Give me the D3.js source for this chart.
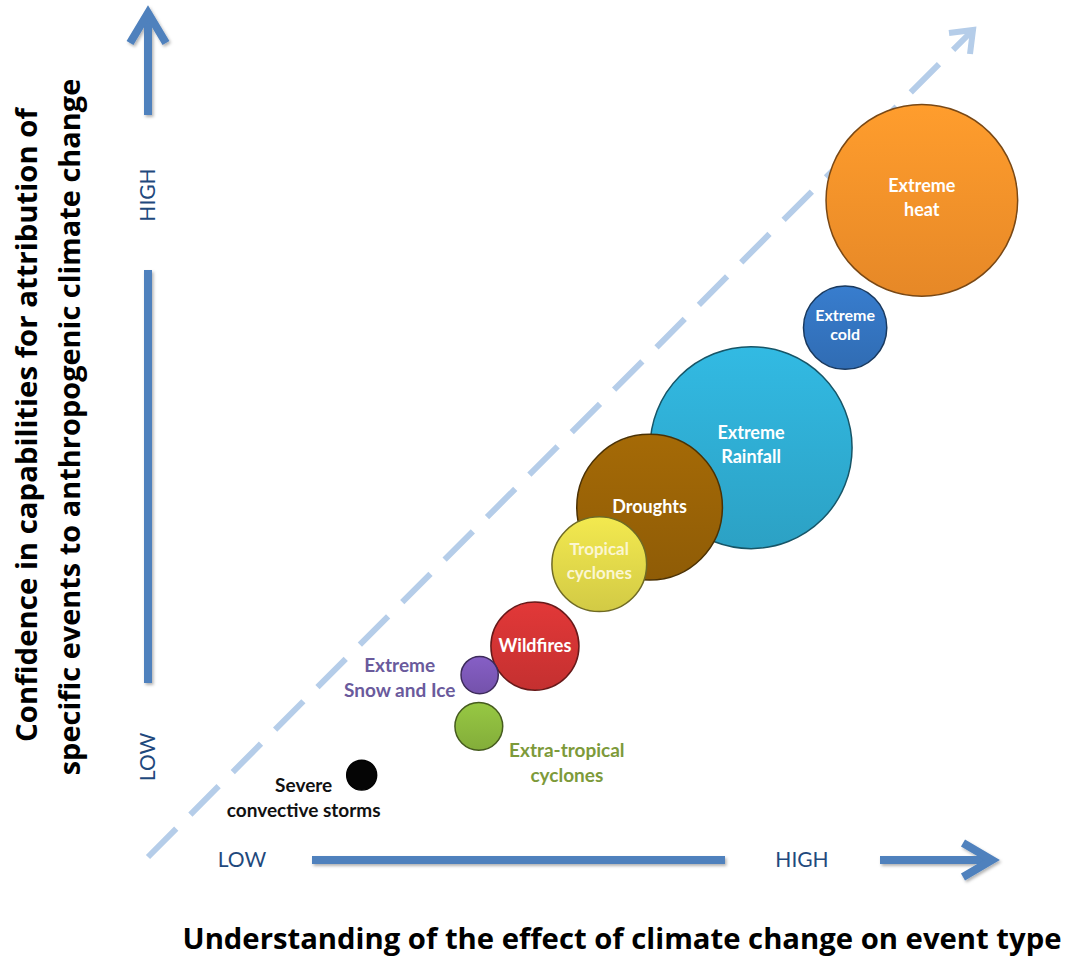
<!DOCTYPE html>
<html>
<head>
<meta charset="utf-8">
<script src="https://cdn.jsdelivr.net/npm/d3@7"></script>
<style>
  body { margin: 0; background: #fff; }
  svg { display: block; font-family: Lato, "Open Sans", sans-serif; }
</style>
</head>
<body>
<div id="chart"></div>
<script>
// event types, position on the two axes (0-100) and relative size
const events = ["Extreme heat", "Extreme cold", "Extreme Rainfall", "Droughts", "Tropical cyclones",
    "Wildfires", "Extreme Snow and Ice", "Extra-tropical cyclones", "Severe convective storms"];
const understanding = [93.8, 84.5, 73.1, 60.8, 54.7, 46.9, 40.2, 40.1, 25.9];
const confidence = [79.4, 64.0, 49.5, 42.3, 35.4, 25.5, 22.0, 15.8, 9.9];
const sizes = [90, 17, 100, 52, 22, 19, 3.4, 5.6, 2.2];
const colors = ["#f7922a", "#3474c0", "#2fadd3", "#9a6306", "#e2d94a", "#d23434", "#7d58b8", "#8dba3e", "#050505"];
const labelInside = [true, true, true, true, true, true, false, false, false];
const levelLabels = ["LOW", "HIGH"];

// shrink or grow a text's font size so it spans the wanted width
function fitText(sel, target) {
    let fs = +sel.attr('font-size');
    let len = sel.node().getComputedTextLength();
    sel.attr('font-size', fs * target / len);
}

function drawChart() {
    const W = 1088, H = 970;
    let svg = d3.select('#chart').append('svg')
        .attr('width', W)
        .attr('height', H);

    // Scales: the dashed diagonal goes from (0,0) to (100,100)
    let xscale = d3.scaleLinear().domain([0, 100]).range([148, 973]);
    let yscale = d3.scaleLinear().domain([0, 100]).range([857, 30]);
    let rscale = d3.scaleSqrt().domain([0, 100]).range([0, 101]);

    let defs = svg.append('defs');
    let shadow = defs.append('filter').attr('id', 'shadow')
        .attr('x', '-20%').attr('y', '-20%').attr('width', '140%').attr('height', '140%');
    shadow.append('feDropShadow')
        .attr('dx', 1.5).attr('dy', 2).attr('stdDeviation', 1.5)
        .attr('flood-color', '#000').attr('flood-opacity', 0.3);

    colors.forEach((c, i) => {
        let grad = defs.append('linearGradient')
            .attr('id', 'grad' + i)
            .attr('x1', 0).attr('y1', 0).attr('x2', 0).attr('y2', 1);
        grad.append('stop').attr('offset', '0%').attr('stop-color', d3.color(c).brighter(0.2));
        grad.append('stop').attr('offset', '100%').attr('stop-color', d3.color(c).darker(0.2));
    });

    // dashed diagonal
    svg.append('line')
        .attr('x1', xscale(0)).attr('y1', yscale(0))
        .attr('x2', xscale(100) - 2).attr('y2', yscale(100) + 2)
        .attr('stroke', '#b5cde9')
        .attr('stroke-width', 6)
        .attr('stroke-dasharray', '40,20');
    svg.append('polyline')
        .attr('points', [[xscale(100) - 24, yscale(100) + 3], [xscale(100), yscale(100)], [xscale(100) - 3, yscale(100) + 24]].join(' '))
        .attr('fill', 'none')
        .attr('stroke', '#b5cde9')
        .attr('stroke-width', 6);

    // axis arrows
    const blue = '#4f81bd';
    let ax = svg.append('g').attr('filter', 'url(#shadow)')
        .attr('stroke', blue).attr('stroke-width', 8).attr('fill', 'none');
    let x0 = xscale(0), yb = 860;
    // vertical
    ax.append('line').attr('x1', x0).attr('x2', x0).attr('y1', 270).attr('y2', 683);
    ax.append('line').attr('x1', x0).attr('x2', x0).attr('y1', 115).attr('y2', 14);
    ax.append('polyline').attr('points', [[x0 - 18, 43], [x0, 13], [x0 + 18, 43]].join(' '));
    // horizontal
    ax.append('line').attr('x1', 312).attr('x2', 725).attr('y1', yb).attr('y2', yb);
    ax.append('line').attr('x1', 880).attr('x2', 990).attr('y1', yb).attr('y2', yb);
    ax.append('polyline').attr('points', [[963, yb - 17], [992, yb], [963, yb + 17]].join(' '));

    // LOW / HIGH labels
    const tickColor = '#1f497d';
    svg.selectAll('.xlevel')
        .data(levelLabels)
        .join('text')
        .attr('class', 'xlevel')
        .attr('x', (d, i) => i == 0 ? 242 : 802)
        .attr('y', yb + 7)
        .attr('text-anchor', 'middle')
        .attr('font-size', 21)
        .attr('fill', tickColor)
        .text(d => d);
    svg.selectAll('.ylevel')
        .data(levelLabels)
        .join('text')
        .attr('class', 'ylevel')
        .attr('transform', (d, i) => `translate(${x0 + 7},${i == 0 ? 757 : 195}) rotate(-90)`)
        .attr('text-anchor', 'middle')
        .attr('font-size', 21)
        .attr('fill', tickColor)
        .text(d => d);

    // bubbles
    let data = events.map((e, i) => ({
        name: e, x: understanding[i], y: confidence[i], size: sizes[i], color: colors[i], inside: labelInside[i], i: i
    }));

    svg.selectAll('circle.bubble')
        .data(data)
        .join('circle')
        .attr('class', 'bubble')
        .attr('cx', d => xscale(d.x))
        .attr('cy', d => yscale(d.y))
        .attr('r', d => rscale(d.size))
        .attr('fill', d => `url(#grad${d.i})`)
        .attr('stroke', d => d3.color(d.color).darker(2))
        .attr('stroke-width', 1.5);

    // labels inside bubbles
    const insideLines = {
        "Extreme heat": ["Extreme", "heat"],
        "Extreme cold": ["Extreme", "cold"],
        "Extreme Rainfall": ["Extreme", "Rainfall"],
        "Droughts": ["Droughts"],
        "Tropical cyclones": ["Tropical", "cyclones"],
        "Wildfires": ["Wildfires"]
    };
    data.filter(d => d.inside).forEach(d => {
        let lines = insideLines[d.name];
        let fs = d.name == "Extreme cold" ? 16 : (d.name == "Tropical cyclones" ? 17 : 18);
        let lh = d.name == "Extreme cold" ? 19 : 24;
        let t = svg.append('text')
            .attr('text-anchor', 'middle')
            .attr('font-size', fs)
            .attr('font-weight', 'bold')
            .attr('fill', d.name == "Tropical cyclones" ? '#fbf6d2' : '#fff');
        lines.forEach((l, k) => {
            t.append('tspan')
                .attr('x', xscale(d.x))
                .attr('y', yscale(d.y) + fs * 0.35 + (k - (lines.length - 1) / 2) * lh - (lines.length > 1 ? 3 : 0))
                .text(l);
        });
    });

    // labels outside bubbles
    const outside = [
        { name: "Extreme Snow and Ice", lines: ["Extreme", "Snow and Ice"], dx: -80, dy: -3, color: '#6a5a9c' },
        { name: "Extra-tropical cyclones", lines: ["Extra-tropical", "cyclones"], dx: 88, dy: 31, color: '#7d9a3a' },
        { name: "Severe convective storms", lines: ["Severe", "convective storms"], dx: -58, dy: 17, color: '#111' }
    ];
    outside.forEach(o => {
        let d = data.find(e => e.name == o.name);
        let t = svg.append('text')
            .attr('text-anchor', 'middle')
            .attr('font-size', 19)
            .attr('font-weight', 'bold')
            .attr('fill', o.color);
        o.lines.forEach((l, k) => {
            t.append('tspan')
                .attr('x', xscale(d.x) + o.dx)
                .attr('y', yscale(d.y) + o.dy + k * 25)
                .text(l);
        });
    });

    // axis titles
    let xt = svg.append('text')
        .attr('x', 622)
        .attr('y', 949)
        .attr('text-anchor', 'middle')
        .attr('font-size', 28)
        .attr('font-family', '"Open Sans", sans-serif')
        .attr('font-weight', 'bold')
        .attr('fill', '#000')
        .text('Understanding of the effect of climate change on event type');
    fitText(xt, 879);

    let yt1 = svg.append('text')
        .attr('transform', 'translate(37,425) rotate(-90)')
        .attr('text-anchor', 'middle')
        .attr('font-size', 28)
        .attr('font-family', '"Open Sans", sans-serif')
        .attr('font-weight', 'bold')
        .attr('fill', '#000')
        .text('Confidence in capabilities for attribution of');
    fitText(yt1, 634);
    let yt2 = svg.append('text')
        .attr('transform', 'translate(80,427) rotate(-90)')
        .attr('text-anchor', 'middle')
        .attr('font-size', 28)
        .attr('font-family', '"Open Sans", sans-serif')
        .attr('font-weight', 'bold')
        .attr('fill', '#000')
        .text('specific events to anthropogenic climate change');
    fitText(yt2, 697);
}

drawChart();
</script>
</body>
</html>
